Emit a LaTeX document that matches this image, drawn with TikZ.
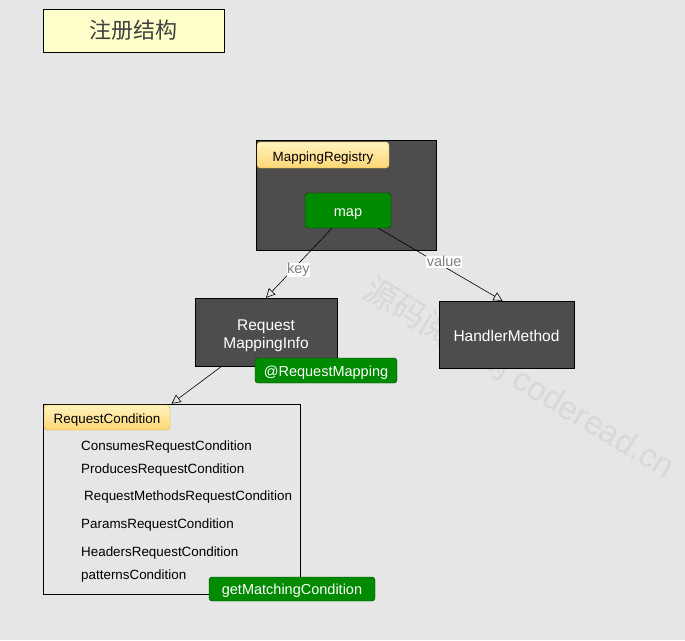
\documentclass[tikz,border=0pt]{standalone}
\usepackage{fontspec}
\setmainfont{Liberation Sans}
\newfontfamily\cjk{Noto Sans CJK SC}
\usetikzlibrary{arrows.meta}

\definecolor{bggray}{HTML}{E6E6E6}
\definecolor{boxgray}{HTML}{4D4D4D}
\definecolor{tagtop}{HTML}{FFF3BE}
\definecolor{tagbot}{HTML}{FFD675}
\definecolor{tagline}{HTML}{D9AA3A}
\definecolor{mapgreen}{HTML}{008A00}
\definecolor{titleyellow}{HTML}{FFFFCC}
\definecolor{markgray}{HTML}{D8D8D8}

\tikzset{
  darkbox/.style={draw=black,fill=boxgray,text=white,inner sep=0pt,align=center,font=\fontsize{15.5}{18}\selectfont},
  tagbox/.style={draw=tagline,rounded corners=3pt,top color=tagtop,bottom color=tagbot,inner sep=0pt,text height=12pt,text depth=0pt,font=\fontsize{13.4}{15}\selectfont},
  greenbox/.style={draw=black!55!mapgreen,fill=mapgreen,rounded corners=3pt,text=white,inner sep=0pt,text height=11.5pt,text depth=0pt,font=\fontsize{14.5}{17}\selectfont},
  condtext/.style={anchor=base west,inner sep=0pt,font=\fontsize{13.4}{15}\selectfont},
  edgelabel/.style={fill=white,text=gray,inner sep=0.6pt,font=\fontsize{14.5}{17}\selectfont},
  link/.style={-{Triangle[open,length=9pt,width=9pt]},line width=0.6pt}
}

\begin{document}
\begin{tikzpicture}[x=1pt,y=-1pt]
\fill[bggray] (0,0) rectangle (685,640);
\useasboundingbox (0,0) rectangle (685,640);
% watermark
\node (wmark) at (520,377) [rotate=-31,text=markgray,font=\fontsize{33}{36}\selectfont] {{\cjk 源码阅读网} coderead.cn};
% title
\node (title) at (133.5,30.5) [draw=black,line width=0.8pt,fill=titleyellow,minimum width=181pt,minimum height=43pt,text=black!75,font=\fontsize{22}{26}\cjk] {注册结构};
% registry
\node (registry) at (346,195) [darkbox,minimum width=180pt,minimum height=110pt] {};
\node (regtag) at (323,155) [tagbox,minimum width=132pt,minimum height=26pt] {MappingRegistry};
\node (map) at (348,210.5) [greenbox,minimum width=86pt,minimum height=35pt] {map};
% key / value
\node (rmi) at (266,332) [darkbox,minimum width=142pt,minimum height=68pt] {};
\node (rmitext) at (266,336) [text=white,inner sep=0pt,align=center,font=\fontsize{15.5}{18}\selectfont] {Request\\MappingInfo};
\node (rmapping) at (326,370.5) [greenbox,minimum width=142pt,minimum height=25pt] {@RequestMapping};
\node (hm) at (506.5,334.5) [darkbox,text height=14pt,text depth=0pt,minimum width=135pt,minimum height=67pt] {HandlerMethod};
% conditions
\node (rc) at (171.5,499) [draw=black,line width=0.6pt,minimum width=257pt,minimum height=190pt] {};
\node (rctag) at (107,417.5) [tagbox,minimum width=126pt,minimum height=25pt] {RequestCondition};
\node (consumes) at (81,450) [condtext] {ConsumesRequestCondition};
\node (produces) at (81,473) [condtext] {ProducesRequestCondition};
\node (methods) at (84,500) [condtext] {RequestMethodsRequestCondition};
\node (params) at (81,528) [condtext] {ParamsRequestCondition};
\node (headers) at (81,556) [condtext] {HeadersRequestCondition};
\node (patterns) at (81,579) [condtext] {patternsCondition};
\node (getmc) at (292,589) [greenbox,minimum width=166pt,minimum height=24pt] {getMatchingCondition};
% links
\draw [link] ([xshift=-16pt]map.south) -- node[edgelabel,pos=0.6,xshift=6pt] (keylabel) {key} (rmi.north);
\draw [link] ([xshift=-13pt]map.south east) -- node[edgelabel,pos=0.53,yshift=5pt] (valuelabel) {value} ([xshift=-4pt]hm.north);
\draw [link] ([xshift=27pt]rmi.south west) -- (rc.north);
\end{tikzpicture}
\end{document}
